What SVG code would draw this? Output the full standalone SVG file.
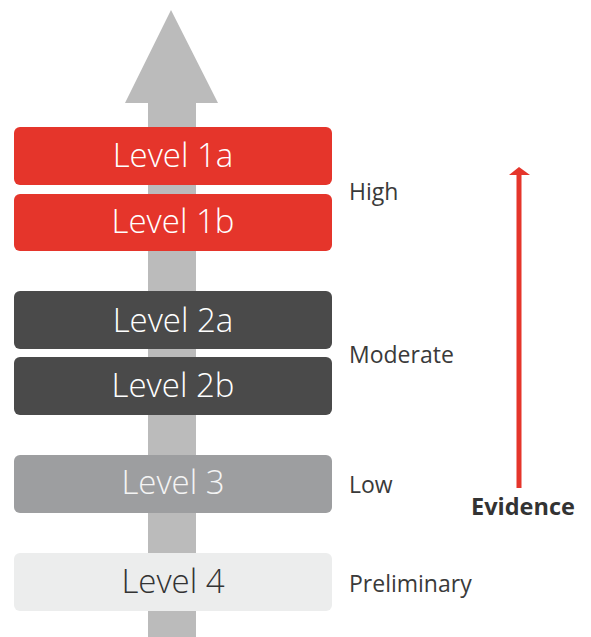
<svg xmlns="http://www.w3.org/2000/svg" width="591" height="637" viewBox="0 0 591 637">
<style>
.box{stroke:none}
.lvl{font-family:"Open Sans","Liberation Sans",sans-serif;font-size:33px;font-weight:300;text-anchor:middle}
.lab{font-family:"Open Sans","Liberation Sans",sans-serif;font-size:23px;fill:#3a3a3a}
</style>
<rect width="591" height="637" fill="#ffffff"/>
<g id="connectors">
<path id="scale-arrow" d="M148,637 L148,103 L125,103 L171,10 L218,103 L196,103 L196,637 Z" fill="#BBBBBB"/>
<g id="evidence-arrow" fill="#E5352B">
<rect x="516.5" y="174" width="5" height="314"/>
<path d="M509,175 L519,167 L530,175 Z"/>
</g>
</g>
<g id="level1a"><rect class="box" x="14" y="127" width="318" height="58" rx="6" fill="#E5352B"/><text class="lvl" x="173" y="167" fill="#ffffff">Level 1a</text></g>
<g id="level1b"><rect class="box" x="14" y="194" width="318" height="57" rx="6" fill="#E5352B"/><text class="lvl" x="173" y="233" fill="#ffffff">Level 1b</text></g>
<g id="level2a"><rect class="box" x="14" y="291" width="318" height="58" rx="6" fill="#4A4A4A"/><text class="lvl" x="173" y="332" fill="#ffffff">Level 2a</text></g>
<g id="level2b"><rect class="box" x="14" y="357" width="318" height="58" rx="6" fill="#4A4A4A"/><text class="lvl" x="173" y="397" fill="#ffffff">Level 2b</text></g>
<g id="level3"><rect class="box" x="14" y="455" width="318" height="58" rx="6" fill="#9D9EA0"/><text class="lvl" x="173" y="494" fill="#F4F4F4">Level 3</text></g>
<g id="level4"><rect class="box" x="14" y="553" width="318" height="58" rx="6" fill="#ECEDED"/><text class="lvl" x="173" y="593" fill="#333333">Level 4</text></g>
<g id="labels">
<text class="lab" x="349" y="200">High</text>
<text class="lab" x="349" y="363">Moderate</text>
<text class="lab" x="349" y="493">Low</text>
<text class="lab" x="349" y="592">Preliminary</text>
<text x="471" y="515" font-family="'Open Sans','Liberation Sans',sans-serif" font-size="23.5" font-weight="700" fill="#333333">Evidence</text>
</g>
</svg>
